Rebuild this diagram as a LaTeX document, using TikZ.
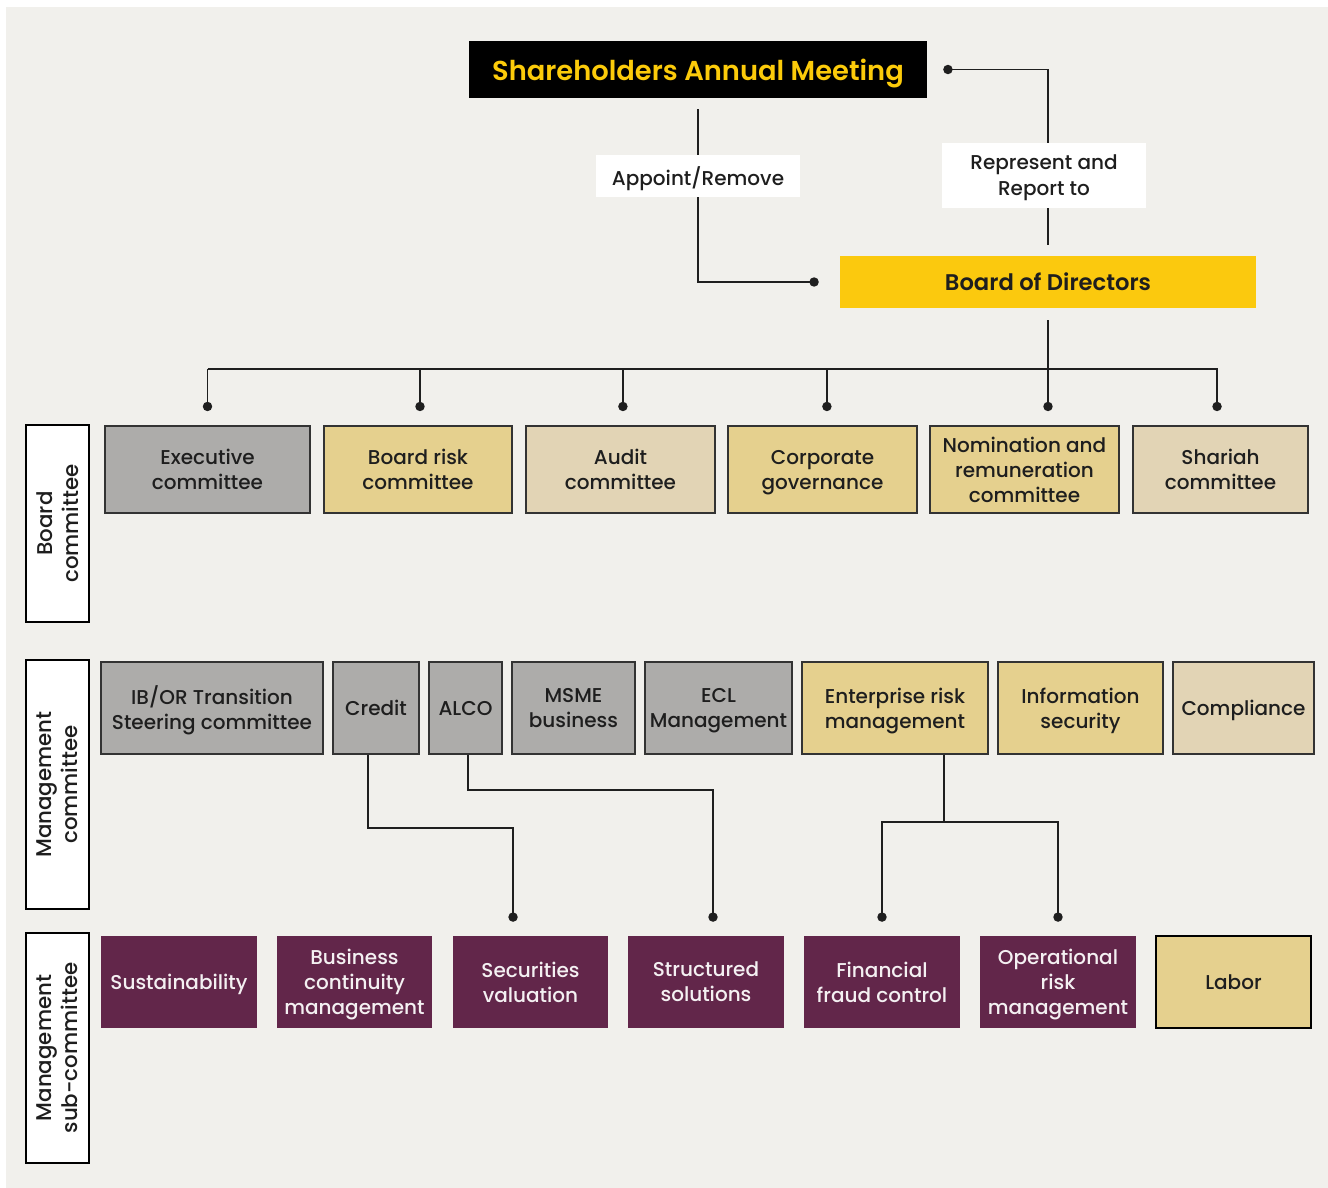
\documentclass[tikz,border=0pt]{standalone}
\usepackage{fontspec}
\setmainfont{Poppins}[UprightFont={Poppins Medium}, BoldFont={Poppins SemiBold}]
\usetikzlibrary{arrows.meta,calc}
\definecolor{bgc}{HTML}{F1F0EC}
\definecolor{ylw}{HTML}{FBC90E}
\definecolor{ytext}{HTML}{FCCB0A}
\definecolor{grayb}{HTML}{ADACAA}
\definecolor{tanb}{HTML}{E5D08E}
\definecolor{ltan}{HTML}{E2D4B5}
\definecolor{purp}{HTML}{62264A}
\definecolor{bord}{HTML}{333333}
\definecolor{txt}{HTML}{1E1E1E}
\newcommand\bx[7]{\node[#6, minimum width={(#4-#2)*0.75pt}, minimum height={(#5-#3)*0.75pt}] (#1) at ({(#2+#4)/2},{(#3+#5)/2}) {#7};}
\newcommand\vlab[6]{\node[vbox, rotate=90, minimum width={(#5-#3)*0.75pt}, minimum height={(#4-#2)*0.75pt}] (#1) at ({(#2+#4)/2},{(#3+#5)/2}) {#6};}
\tikzset{
  base/.style={inner sep=1pt, align=center, text=txt, text depth=0pt, font=\fontsize{15}{18.75}\selectfont},
  graybox/.style={base, fill=grayb, draw=bord, line width=1.3pt},
  tanbox/.style={base, fill=tanb, draw=bord, line width=1.3pt},
  ltanbox/.style={base, fill=ltan, draw=bord, line width=1.3pt},
  purpbox/.style={base, fill=purp, text=white!93!purp},
  labbox/.style={base, fill=tanb, draw=black, line width=1.5pt},
  vbox/.style={base, fill=white, draw=black, line width=1.1pt, font=\fontsize{16}{19.5}\selectfont},
  tag/.style={base, fill=white, font=\fontsize{15}{19.5}\selectfont},
  conn/.style={draw=black!88, line width=1.2pt},
  dotend/.style={conn, -{Circle[length=7pt]}},
  dotstart/.style={conn, {Circle[length=7pt]}-},
}
\begin{document}
\begin{tikzpicture}[x=0.75pt,y=-0.75pt]
\useasboundingbox (0,0) rectangle (1328,1188);
\fill[bgc] (6,7) rectangle (1328,1188);

% top
\bx{sam}{469}{41}{927}{98}{base, fill=black, text=ytext, font=\fontsize{20.5}{24}\selectfont\bfseries}{Shareholders Annual Meeting}
\bx{bod}{840}{256}{1256}{308}{base, fill=ylw, font=\fontsize{17}{20}\selectfont\bfseries}{Board of Directors}

% side labels
\vlab{lbc}{26}{425}{89}{622}{Board\\committee}
\vlab{lmc}{26}{660}{89}{909}{Management\\committee}
\vlab{lms}{26}{933}{89}{1163}{Management\\sub-committee}

% board committees
\bx{exec}{105}{426}{310}{513}{graybox}{Executive\\committee}
\bx{brc}{324}{426}{512}{513}{tanbox}{Board risk\\committee}
\bx{audit}{526}{426}{715}{513}{ltanbox}{Audit\\committee}
\bx{cg}{728}{426}{917}{513}{tanbox}{Corporate\\governance}
\bx{nom}{930}{426}{1119}{513}{tanbox}{Nomination and\\remuneration\\committee}
\bx{shariah}{1133}{426}{1308}{513}{ltanbox}{Shariah\\committee}

% management committees
\bx{ibor}{101}{662}{323}{754}{graybox}{IB/OR Transition\\Steering committee}
\bx{credit}{333}{662}{419}{754}{graybox}{Credit}
\bx{alco}{429}{662}{502}{754}{graybox}{ALCO}
\bx{msme}{512}{662}{635}{754}{graybox}{MSME\\business}
\bx{ecl}{645}{662}{792}{754}{graybox}{ECL\\Management}
\bx{erm}{802}{662}{988}{754}{tanbox}{Enterprise risk\\management}
\bx{infosec}{998}{662}{1163}{754}{tanbox}{Information\\security}
\bx{compl}{1173}{662}{1314}{754}{ltanbox}{Compliance}

% sub-committees
\bx{sust}{101}{936}{257}{1028}{purpbox}{Sustainability}
\bx{bcm}{277}{936}{432}{1028}{purpbox}{Business\\continuity\\management}
\bx{secval}{453}{936}{608}{1028}{purpbox}{Securities\\valuation}
\bx{strsol}{628}{936}{784}{1028}{purpbox}{Structured\\solutions}
\bx{fraud}{804}{936}{960}{1028}{purpbox}{Financial\\fraud control}
\bx{orm}{980}{936}{1136}{1028}{purpbox}{Operational\\risk\\management}
\bx{labor}{1156}{936}{1311}{1028}{labbox}{Labor}

% top connectors
\draw[dotend] ([yshift=-8.25pt]sam.south) |- ([xshift=-15.75pt]bod.west);
\draw[dotstart] ([xshift=12pt]sam.east) -| ([yshift=8.25pt]bod.north);

% board to committees
\coordinate (bus) at (0,369);
\coordinate (nomtop) at (bod.south |- nom.north);
\draw[dotend] ([yshift=-9pt]bod.south) -- ([yshift=10.5pt]nomtop);
\draw[conn] (exec.north |- bus) -- ([xshift=-2pt]shariah.north |- bus);
\foreach \n/\dx in {exec/0pt, brc/1.5pt, audit/1.8pt, cg/3.3pt, shariah/-2.6pt}{
  \coordinate (\n top) at ([xshift=\dx]\n.north);
  \draw[dotend] (\n top |- bus) -- ([yshift=10.5pt]\n top);
}

% management to sub
\draw[dotend] ([xshift=-6pt]credit.south) -- ++(0,73) -| ([xshift=-13.1pt,yshift=10.5pt]secval.north);
\draw[dotend] ([xshift=2pt]alco.south) -- ++(0,35) -| ([xshift=5.25pt,yshift=10.5pt]strsol.north);
\draw[conn] ([xshift=36.75pt]erm.south) -- ++(0,67) coordinate (ermJ);
\draw[dotend] (ermJ) -| ([yshift=10.5pt]fraud.north);
\draw[dotend] (ermJ) -| ([yshift=10.5pt]orm.north);

% connector labels
\node[tag, minimum width=153pt, minimum height=31.5pt] (appoint) at (698,176) {Appoint/Remove};
\node[tag, minimum width=153pt, minimum height=48.75pt] (report) at (1044,175.5) {Represent and\\Report to};
\end{tikzpicture}
\end{document}
